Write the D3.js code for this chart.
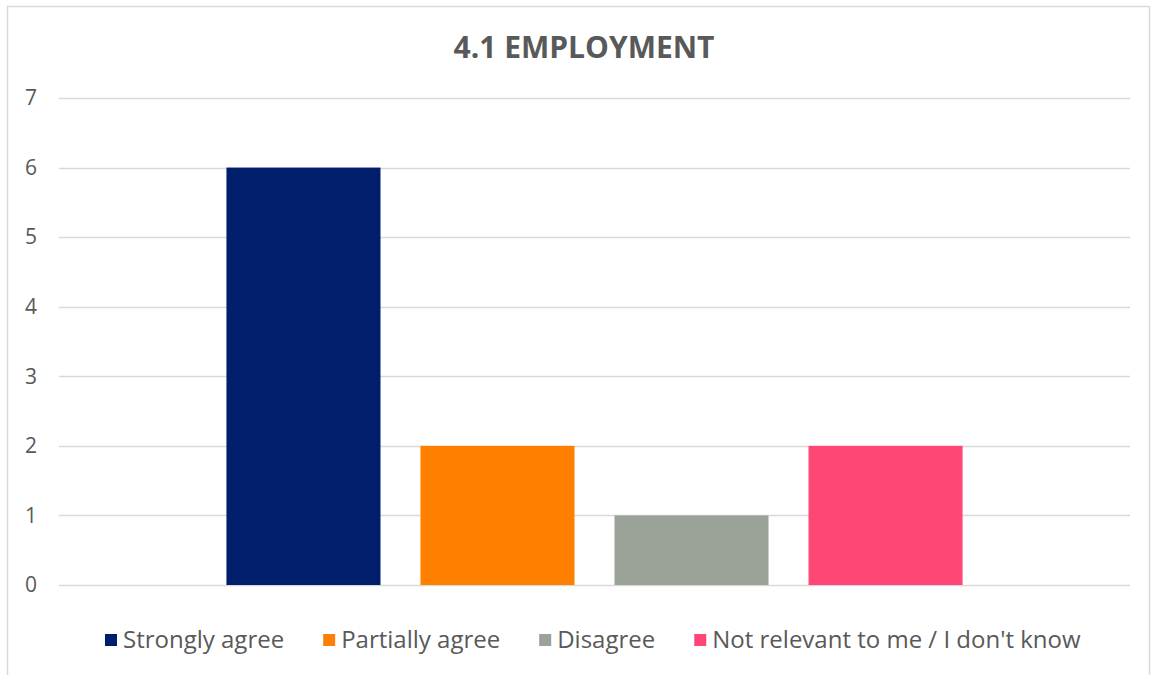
<!DOCTYPE html>
<html><head><meta charset="utf-8">
<script src="https://cdn.jsdelivr.net/npm/d3@7"></script>
<style>
body{margin:0;background:#fff;}
svg text{font-family:"Open Sans","Lato",sans-serif;}
</style></head>
<body>
<svg id="chart" width="1153" height="675"></svg>
<script>
const categories = ["4.1 Employment"];
const seriesNames = ["Strongly agree","Partially agree","Disagree","Not relevant to me / I don't know"];
const seriesValues = [6, 2, 1, 2];
const seriesColors = ["#001E6C","#FF8000","#9BA399","#FF4775"];
const yTicks = [0,1,2,3,4,5,6,7];
const title = "4.1 EMPLOYMENT";

const svg = d3.select("#chart");
const plotL = 59, plotR = 1130, plotT = 98, plotB = 585;

// outer border
svg.append("rect").attr("x",7.5).attr("y",6.5).attr("width",1142).attr("height",672)
  .attr("fill","none").attr("stroke","#D9D9D9").attr("stroke-width",1.5);

const y = d3.scaleLinear().domain([0,7]).range([plotB, plotT]);
const x0 = d3.scaleBand().domain(categories).range([plotL, plotR]).paddingInner(0).paddingOuter(0.19);
const x1 = d3.scaleBand().domain(seriesNames).range([0, x0.bandwidth()]).paddingInner(0.206).paddingOuter(0.103);

// gridlines
svg.append("g").selectAll("line").data(yTicks).join("line")
  .attr("x1",plotL).attr("x2",plotR)
  .attr("y1",d=>Math.round(y(d))+0.5).attr("y2",d=>Math.round(y(d))+0.5)
  .attr("stroke","#D9D9D9").attr("stroke-width",1.5);

// y axis labels
const yAxis = d3.axisLeft(y).tickValues(yTicks).tickFormat(d3.format("d")).tickSize(0).tickPadding(0);
const ga = svg.append("g").attr("transform",`translate(31,0)`).call(yAxis);
ga.select(".domain").remove();
ga.selectAll("text").attr("fill","#595959").attr("font-size",21).attr("text-anchor","middle")
  .style("font-family",'"Open Sans",sans-serif');

// bars
const g = svg.append("g");
categories.forEach(cat=>{
  g.selectAll("rect.bar").data(seriesNames.map((s,i)=>({s,v:seriesValues[i],c:seriesColors[i]})))
   .join("rect").attr("class","bar")
   .attr("x",d=>x0(cat)+x1(d.s)).attr("width",x1.bandwidth())
   .attr("y",d=>y(d.v)).attr("height",d=>y(0)-y(d.v))
   .attr("fill",d=>d.c);
});

// title
svg.append("text").attr("x",584).attr("y",58).attr("text-anchor","middle")
  .attr("font-size",30).attr("font-weight","bold").attr("fill","#595959").text(title);

// legend
const legend = svg.append("g").attr("transform","translate(0,640)");
let lx = 105;
seriesNames.forEach((s,i)=>{
  const it = legend.append("g").attr("transform",`translate(${lx},0)`);
  it.append("rect").attr("x",0).attr("y",-6).attr("width",12).attr("height",12).attr("fill",seriesColors[i]);
  const t = it.append("text").attr("x",18).attr("y",0).attr("dy","0.35em")
    .attr("font-size",24).attr("fill","#595959").text(s);
  const w = t.node().getComputedTextLength();
  lx += 18 + w + 39;
});
</script>
</body></html>
